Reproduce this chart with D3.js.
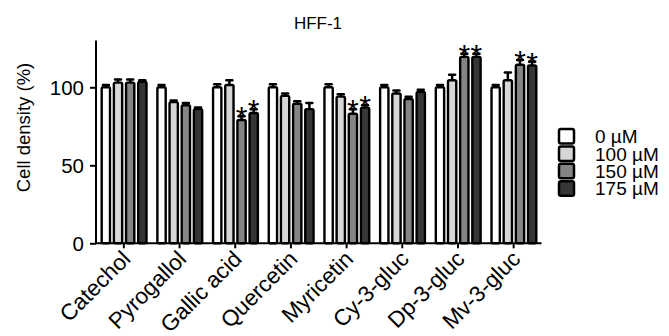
<!DOCTYPE html>
<html>
<head>
<meta charset="utf-8">
<script src="https://cdn.jsdelivr.net/npm/d3@7"></script>
<style>
  body { margin: 0; background: #fff; }
  text { font-family: "Liberation Sans", Arial, sans-serif; fill: #000; }
</style>
</head>
<body>
<div id="chart"></div>
<script>
let svgWidth = 669;
let svgHeight = 336;

// data
let compounds = ["Catechol", "Pyrogallol", "Gallic acid", "Quercetin", "Myricetin", "Cy-3-gluc", "Dp-3-gluc", "Mv-3-gluc"];
let doses = ["0 µM", "100 µM", "150 µM", "175 µM"];
let dose0 = [100, 100, 100, 100, 100, 100, 100, 100];
let dose100 = [103, 90.5, 101.5, 94.5, 94, 96, 104.5, 104.5];
let dose150 = [103, 88.5, 79, 89.5, 83, 92.5, 119.5, 114.5];
let dose175 = [103.5, 86, 83.5, 86, 87, 97, 119.5, 114];
let err0 = [1.5, 1.5, 2, 2, 2, 1.5, 1.5, 1.5];
let err100 = [2, 1, 3, 1.5, 1.5, 2, 3.5, 5];
let err150 = [2, 1.5, 2.5, 1.5, 3, 1.5, 2, 3];
let err175 = [1, 1, 2.5, 4, 1.5, 1.5, 2, 2.5];
let signif150 = [false, false, true, false, true, false, true, true];
let signif175 = [false, false, true, false, true, false, true, true];
let yTicks = [0, 50, 100];
let colors = ["#ffffff", "#d6d6d6", "#858585", "#363636"];

let means = [dose0, dose100, dose150, dose175];
let errs = [err0, err100, err150, err175];
let stars = [null, null, signif150, signif175];

let data = [];
compounds.forEach((c, i) => {
  doses.forEach((d, j) => {
    data.push({ compound: c, dose: d, value: means[j][i], err: errs[j][i], star: stars[j] ? stars[j][i] : false });
  });
});

let svg = d3.select("#chart")
  .append("svg")
  .attr("width", svgWidth)
  .attr("height", svgHeight);

let x0 = d3.scaleBand()
  .domain(compounds)
  .range([96, 541.5]);

let x1 = d3.scaleBand()
  .domain(doses)
  .range([4.5, x0.bandwidth() - 4])
  .paddingInner(0.12);

let y = d3.scaleLinear()
  .domain([0, 130])
  .range([243.3, 40.5]);

let color = d3.scaleOrdinal().domain(doses).range(colors);

// bars
let groups = svg.append("g")
  .selectAll("g")
  .data(compounds)
  .enter()
  .append("g")
  .attr("transform", d => `translate(${x0(d)},0)`);

let bars = groups.selectAll("g.bar")
  .data(c => data.filter(d => d.compound === c))
  .enter()
  .append("g")
  .attr("class", "bar");

// error bars (upper only, drawn behind bar)
bars.append("line")
  .attr("x1", d => x1(d.dose) + x1.bandwidth() / 2)
  .attr("x2", d => x1(d.dose) + x1.bandwidth() / 2)
  .attr("y1", d => y(d.value))
  .attr("y2", d => y(d.value + d.err))
  .attr("stroke", "#000")
  .attr("stroke-width", 2.5);

bars.append("line")
  .attr("x1", d => x1(d.dose) + x1.bandwidth() / 2 - 3)
  .attr("x2", d => x1(d.dose) + x1.bandwidth() / 2 + 3)
  .attr("y1", d => y(d.value + d.err))
  .attr("y2", d => y(d.value + d.err))
  .attr("stroke", "#000")
  .attr("stroke-width", 2.5)
  .attr("stroke-linecap", "round");

bars.append("rect")
  .attr("x", d => x1(d.dose) + 1.2)
  .attr("y", d => y(d.value))
  .attr("width", x1.bandwidth() - 2.4)
  .attr("height", d => y(0) - y(d.value))
  .attr("fill", d => color(d.dose))
  .attr("stroke", "#000")
  .attr("stroke-width", 2.4)
  .attr("rx", 1.5);

bars.filter(d => d.star)
  .append("text")
  .attr("x", d => x1(d.dose) + x1.bandwidth() / 2)
  .attr("y", d => y(d.value + d.err) + 11)
  .attr("text-anchor", "middle")
  .style("font-size", "30px")
  .text("*");

// axes
let yAxis = svg.append("g")
  .attr("class", "y-axis")
  .attr("transform", "translate(96,0)")
  .call(d3.axisLeft(y).tickValues(yTicks).tickSize(6).tickPadding(6));

let xAxis = svg.append("g")
  .attr("class", "x-axis")
  .attr("transform", `translate(0,${y(0)})`)
  .call(d3.axisBottom(x0).tickSize(5).tickFormat(""));

svg.selectAll(".tick line").attr("stroke", "#000").attr("stroke-width", 2);
yAxis.select(".domain")
  .attr("d", `M0,${y(0)}V${y(130)}`)
  .attr("stroke", "#000").attr("stroke-width", 2);
xAxis.select(".domain")
  .attr("d", "M96,0H541.5")
  .attr("stroke", "#000").attr("stroke-width", 2);

yAxis.attr("font-size", 20)
  .attr("font-family", "'Liberation Sans', Arial, sans-serif");
yAxis.selectAll("text")
  .style("font-size", "20.5px")
  .attr("dy", "0.36em");

// category labels
svg.append("g")
  .selectAll("text")
  .data(compounds)
  .enter()
  .append("text")
  .attr("transform", d => `translate(${x0(d) + x0.bandwidth() / 2 + 8},${y(0) + 17}) rotate(-45)`)
  .attr("text-anchor", "end")
  .style("font-size", "22.5px")
  .text(d => d);

// y label
svg.append("text")
  .attr("transform", `translate(30,127.5) rotate(-90)`)
  .attr("text-anchor", "middle")
  .style("font-size", "18.5px")
  .text("Cell density (%)");

// title
svg.append("text")
  .attr("x", 318)
  .attr("y", 29)
  .attr("text-anchor", "middle")
  .style("font-size", "17px")
  .text("HFF-1");

// legend
let legend = svg.append("g")
  .selectAll("g")
  .data(doses)
  .enter()
  .append("g")
  .attr("transform", (d, i) => `translate(559,${129 + i * 17.4})`);

legend.append("rect")
  .attr("width", 15)
  .attr("height", 14.5)
  .attr("rx", 2)
  .attr("fill", d => color(d))
  .attr("stroke", "#000")
  .attr("stroke-width", 2.5);

legend.append("text")
  .attr("x", 36)
  .attr("y", 7.5)
  .attr("dy", "0.35em")
  .style("font-size", "19px")
  .text(d => d);
</script>
</body>
</html>
